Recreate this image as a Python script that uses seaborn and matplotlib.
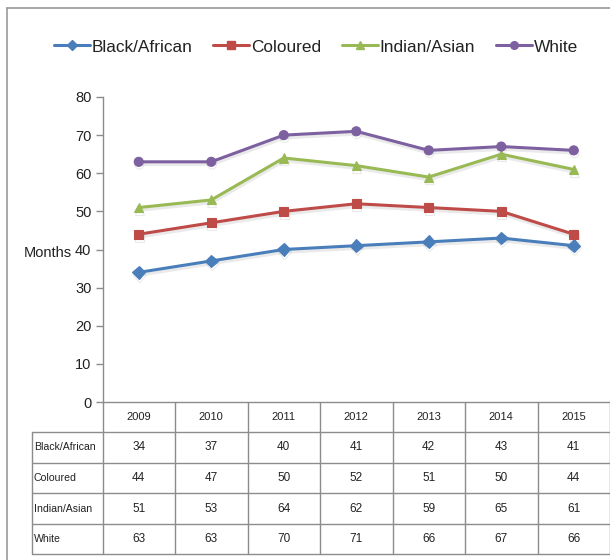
import matplotlib
matplotlib.use("Agg")
import matplotlib.pyplot as plt
import matplotlib.patheffects as pe
from matplotlib.lines import Line2D
from matplotlib.transforms import blended_transform_factory
import seaborn as sns
import pandas as pd

# Median duration in months by population group
years = ["2009", "2010", "2011", "2012", "2013", "2014", "2015"]
groups = ["Black/African", "Coloured", "Indian/Asian", "White"]
black_african = [34, 37, 40, 41, 42, 43, 41]
coloured = [44, 47, 50, 52, 51, 50, 44]
indian_asian = [51, 53, 64, 62, 59, 65, 61]
white = [63, 63, 70, 71, 66, 67, 66]
y_ticks = [0, 10, 20, 30, 40, 50, 60, 70, 80]

series = [black_african, coloured, indian_asian, white]
colors = ["#4a7ebb", "#be4b48", "#98b954", "#7d60a0"]
markers = ["D", "s", "^", "o"]

rows = []
for g, vals in zip(groups, series):
    for i, v in enumerate(vals):
        rows.append({"pos": i, "year": years[i], "group": g, "months": v})
df = pd.DataFrame(rows)

sns.set_theme(style="white")
plt.rcParams["font.family"] = ["Liberation Sans", "DejaVu Sans"]

W, H = 610, 560
fig = plt.figure(figsize=(W / 100, H / 100), dpi=100)
ax = fig.add_axes([102.5 / W, 1 - 402 / H, 1 - 102.5 / W, 305 / H])

sns.lineplot(
    data=df, x="pos", y="months", hue="group", style="group",
    hue_order=groups, style_order=groups,
    palette=dict(zip(groups, colors)),
    markers=dict(zip(groups, markers)), dashes=False,
    linewidth=2.2, markersize=6.5, markeredgewidth=0.8,
    ax=ax, legend=False,
)
shadow = [pe.SimpleLineShadow(offset=(0.5, -2), shadow_color="#999999",
                              alpha=0.2), pe.Normal()]
for line, c in zip(ax.lines, colors):
    line.set_markeredgecolor(c)
    line.set_markerfacecolor(c)
    line.set_path_effects(shadow)

ax.set_xlim(-0.5, len(years) - 0.5)
ax.set_ylim(0, 80)
ax.set_yticks(y_ticks)
ax.set_yticklabels([str(t) for t in y_ticks], fontsize=10.5, color="#222222")
ax.set_xticks([])
ax.set_xlabel("")
ax.set_ylabel("Months", rotation=0, fontsize=10.5, color="#222222",
              ha="right", va="center")
ax.yaxis.set_label_coords(-0.06, 0.49)
ax.tick_params(axis="y", which="both", left=True, length=5, width=1,
               color="#8c8c8c", pad=3)
for side in ["top", "right"]:
    ax.spines[side].set_visible(False)
for side in ["left", "bottom"]:
    ax.spines[side].set_color("#8c8c8c")
    ax.spines[side].set_linewidth(1)

# Data table beneath the plot
grid = "#8c8c8c"
tr = blended_transform_factory(ax.transData, fig.transFigure)
label_left = -0.5 - (102.5 - 31.7) / (507.5 / len(years))
x_right = len(years) - 0.5
row_lines = [402, 432, 463, 493, 524, 554]

def fy(py):
    return 1 - py / H

# horizontal rules
for py in row_lines[1:]:
    ax.add_line(Line2D([label_left, x_right], [fy(py), fy(py)], transform=tr,
                       color=grid, lw=1, clip_on=False))
# vertical rules
for i in range(len(years) + 1):
    xb = -0.5 + i
    ax.add_line(Line2D([xb, xb], [fy(402), fy(554)], transform=tr,
                       color=grid, lw=1, clip_on=False))
ax.add_line(Line2D([label_left, label_left], [fy(432), fy(554)], transform=tr,
                   color=grid, lw=1, clip_on=False))

tcol = "#222222"
for i, yr in enumerate(years):
    ax.text(i, fy((402 + 432) / 2), yr, transform=tr, ha="center", va="center",
            fontsize=8, color=tcol)
for r, (g, vals) in enumerate(zip(groups, series)):
    yc = fy((row_lines[r + 1] + row_lines[r + 2]) / 2)
    ax.text(label_left + 0.03, yc, g, transform=tr, ha="left", va="center",
            fontsize=7.6, color=tcol)
    for i, v in enumerate(vals):
        ax.text(i, yc, str(v), transform=tr, ha="center", va="center",
                fontsize=8.5, color=tcol)

# Legend across the top
handles = [Line2D([], [], color=c, marker=m, lw=2.2, markersize=5.5,
                  markeredgecolor=c) for c, m in zip(colors, markers)]
fig.legend(handles, groups, loc="center", bbox_to_anchor=(316 / W, 1 - 47 / H),
           ncol=4, frameon=False, fontsize=12.4, handlelength=2.1,
           handletextpad=0.1, columnspacing=1.2, labelcolor="#222222")

# Outer chart border (left and top edges)
fig.add_artist(Line2D([7 / W, 7 / W], [0, 1 - 8 / H], transform=fig.transFigure,
                      color="#9a9a9a", lw=1.2))
fig.add_artist(Line2D([7 / W, 1], [1 - 8 / H, 1 - 8 / H], transform=fig.transFigure,
                      color="#9a9a9a", lw=1.2))

fig.savefig("out.png", dpi=100)
